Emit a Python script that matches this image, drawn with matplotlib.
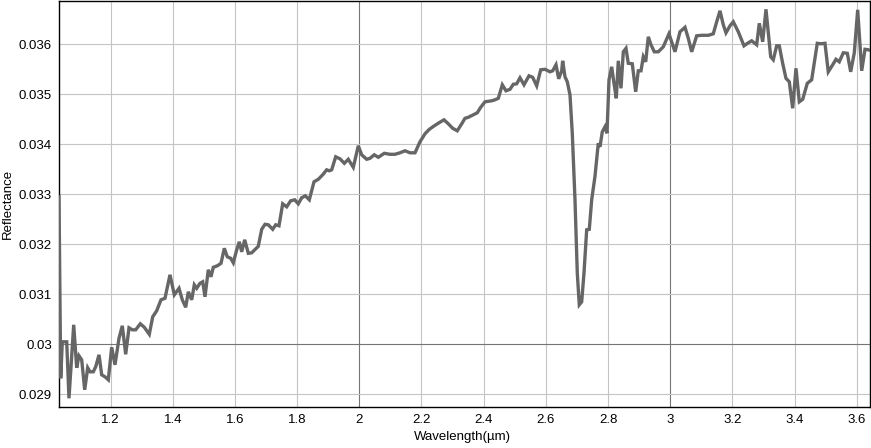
import numpy as np
import matplotlib
matplotlib.use("Agg")
import matplotlib.pyplot as plt

# Spektrum
wavelength = [
    1.0341, 1.0396, 1.0447, 1.0589, 1.0662, 1.0814, 1.0910, 1.0984, 1.1071, 1.1168,
    1.1264, 1.1338, 1.1444, 1.1521, 1.1628, 1.1714, 1.1820, 1.1927, 1.2036, 1.2142,
    1.2271, 1.2377, 1.2486, 1.2593, 1.2699, 1.2808, 1.2956, 1.3085, 1.3245, 1.3355,
    1.3483, 1.3622, 1.3750, 1.3911, 1.4050, 1.4201, 1.4307, 1.4416, 1.4500, 1.4609,
    1.4693, 1.4770, 1.4876, 1.4963, 1.5037, 1.5143, 1.5230, 1.5304, 1.5433, 1.5552,
    1.5658, 1.5754, 1.5864, 1.5947, 1.6057, 1.6140, 1.6217, 1.6314, 1.6430, 1.6539,
    1.6751, 1.6861, 1.6967, 1.7073, 1.7215, 1.7311, 1.7417, 1.7536, 1.7665, 1.7793,
    1.7922, 1.8038, 1.8147, 1.8263, 1.8392, 1.8543, 1.8681, 1.8823, 1.8951, 1.9035,
    1.9112, 1.9241, 1.9379, 1.9518, 1.9646, 1.9807, 1.9968, 2.0077, 2.0238, 2.0344,
    2.0482, 2.0611, 2.0804, 2.0987, 2.1148, 2.1309, 2.1470, 2.1631, 2.1792, 2.1952,
    2.2113, 2.2252, 2.2412, 2.2564, 2.2724, 2.2863, 2.3004, 2.3152, 2.3294, 2.3400,
    2.3506, 2.3667, 2.3795, 2.3905, 2.4043, 2.4259, 2.4365, 2.4471, 2.4600, 2.4719,
    2.4847, 2.4953, 2.5063, 2.5169, 2.5298, 2.5458, 2.5577, 2.5706, 2.5835, 2.5973,
    2.6134, 2.6221, 2.6327, 2.6414, 2.6510, 2.6542, 2.6616, 2.6690, 2.6777, 2.6851,
    2.6938, 2.7012, 2.7076, 2.7153, 2.7227, 2.7314, 2.7398, 2.7475, 2.7581, 2.7687,
    2.7742, 2.7816, 2.7903, 2.7967, 2.8032, 2.8118, 2.8192, 2.8266, 2.8331, 2.8417,
    2.8492, 2.8578, 2.8652, 2.8781, 2.8890, 2.8974, 2.9061, 2.9135, 2.9212, 2.9296,
    2.9382, 2.9489, 2.9617, 2.9778, 2.9961, 3.0048, 3.0154, 3.0315, 3.0476, 3.0582,
    3.0692, 3.0852, 3.1013, 3.1226, 3.1386, 3.1496, 3.1602, 3.1708, 3.1795, 3.1924,
    3.2030, 3.2191, 3.2374, 3.2512, 3.2621, 3.2782, 3.2866, 3.2975, 3.3081, 3.3233,
    3.3316, 3.3425, 3.3509, 3.3618, 3.3724, 3.3831, 3.3940, 3.4046, 3.4153, 3.4262,
    3.4410, 3.4551, 3.4731, 3.4841, 3.4979, 3.5085, 3.5227, 3.5333, 3.5439, 3.5568,
    3.5697, 3.5806, 3.5922, 3.6031, 3.6160, 3.6266, 3.6372, 3.6427,
]
reflectance = [
    0.03295, 0.02932, 0.03005, 0.03005, 0.02892, 0.03039, 0.02953, 0.02977, 0.02969, 0.02909,
    0.02953, 0.02945, 0.02945, 0.02955, 0.02979, 0.02939, 0.02935, 0.02929, 0.02994, 0.02959,
    0.03012, 0.03037, 0.02980, 0.03033, 0.03029, 0.03029, 0.03041, 0.03034, 0.03020, 0.03055,
    0.03067, 0.03089, 0.03092, 0.03139, 0.03099, 0.03112, 0.03089, 0.03074, 0.03105, 0.03089,
    0.03119, 0.03112, 0.03122, 0.03125, 0.03095, 0.03149, 0.03135, 0.03154, 0.03157, 0.03162,
    0.03192, 0.03175, 0.03172, 0.03163, 0.03189, 0.03205, 0.03185, 0.03209, 0.03182, 0.03183,
    0.03196, 0.03230, 0.03240, 0.03239, 0.03230, 0.03239, 0.03237, 0.03281, 0.03275, 0.03287,
    0.03289, 0.03281, 0.03293, 0.03297, 0.03289, 0.03325, 0.03330, 0.03339, 0.03349, 0.03347,
    0.03349, 0.03375, 0.03371, 0.03362, 0.03370, 0.03354, 0.03397, 0.03379, 0.03370, 0.03372,
    0.03379, 0.03374, 0.03382, 0.03380, 0.03380, 0.03383, 0.03387, 0.03383, 0.03383, 0.03405,
    0.03421, 0.03430, 0.03437, 0.03443, 0.03449, 0.03441, 0.03432, 0.03427, 0.03441, 0.03452,
    0.03454, 0.03459, 0.03463, 0.03474, 0.03485, 0.03487, 0.03489, 0.03492, 0.03519, 0.03507,
    0.03510, 0.03520, 0.03521, 0.03533, 0.03519, 0.03537, 0.03534, 0.03517, 0.03549, 0.03550,
    0.03545, 0.03547, 0.03559, 0.03531, 0.03547, 0.03567, 0.03535, 0.03525, 0.03499, 0.03422,
    0.03289, 0.03142, 0.03079, 0.03085, 0.03142, 0.03229, 0.03230, 0.03289, 0.03336, 0.03402,
    0.03395, 0.03425, 0.03435, 0.03422, 0.03529, 0.03555, 0.03522, 0.03492, 0.03567, 0.03512,
    0.03585, 0.03592, 0.03562, 0.03561, 0.03505, 0.03547, 0.03547, 0.03575, 0.03565, 0.03615,
    0.03599, 0.03585, 0.03585, 0.03595, 0.03621, 0.03605, 0.03585, 0.03625, 0.03634, 0.03612,
    0.03585, 0.03617, 0.03618, 0.03618, 0.03621, 0.03645, 0.03667, 0.03639, 0.03623, 0.03637,
    0.03645, 0.03625, 0.03597, 0.03603, 0.03607, 0.03599, 0.03642, 0.03605, 0.03670, 0.03575,
    0.03569, 0.03597, 0.03597, 0.03562, 0.03532, 0.03525, 0.03472, 0.03552, 0.03485, 0.03490,
    0.03522, 0.03529, 0.03602, 0.03601, 0.03602, 0.03545, 0.03559, 0.03570, 0.03565, 0.03583,
    0.03582, 0.03545, 0.03583, 0.03669, 0.03547, 0.03590, 0.03589, 0.03588,
]

xticks = [1.2, 1.4, 1.6, 1.8, 2.0, 2.2, 2.4, 2.6, 2.8, 3.0, 3.2, 3.4, 3.6]
yticks = [0.029, 0.030, 0.031, 0.032, 0.033, 0.034, 0.035, 0.036]

plt.rcParams['font.family'] = ['Liberation Sans', 'DejaVu Sans']

fig = plt.figure(figsize=(8.71, 4.48), dpi=100)
ax = fig.add_axes([59/871, 1 - 407/448, 811/871, 406/448])

ax.plot(wavelength, reflectance, color='#666666', lw=2.4, solid_joinstyle='miter', zorder=3)

ax.set_xlim(wavelength[0], wavelength[-1])
ax.set_ylim(0.028746, 0.036866)

ax.set_xticks(xticks)
ax.set_xticklabels(['%g' % t for t in xticks])
ax.set_yticks(yticks)
ax.set_yticklabels(['%g' % t for t in yticks])
ax.tick_params(length=0, labelsize=9.5, colors='black', pad=5)

# Gitter: helle Linien, dunklere bei runden Werten
for t in xticks:
    c = '#757575' if t in (2.0, 3.0) else '#c4c4c4'
    ax.axvline(t, color=c, lw=0.8, zorder=1)
for t in yticks:
    c = '#757575' if abs(t - 0.030) < 1e-9 else '#c4c4c4'
    ax.axhline(t, color=c, lw=0.8, zorder=1)

for s in ax.spines.values():
    s.set_color('black')
    s.set_linewidth(1.0)

ax.set_xlabel('Wavelength(\u00b5m)', fontsize=9.5, va='center')
ax.set_ylabel('Reflectance', fontsize=9.5, va='center')
ax.xaxis.set_label_coords((462 - 59) / 811, (407 - 437) / 406)
ax.yaxis.set_label_coords((8 - 59) / 811, (407 - 204) / 406)

fig.savefig('out.png', dpi=100)
